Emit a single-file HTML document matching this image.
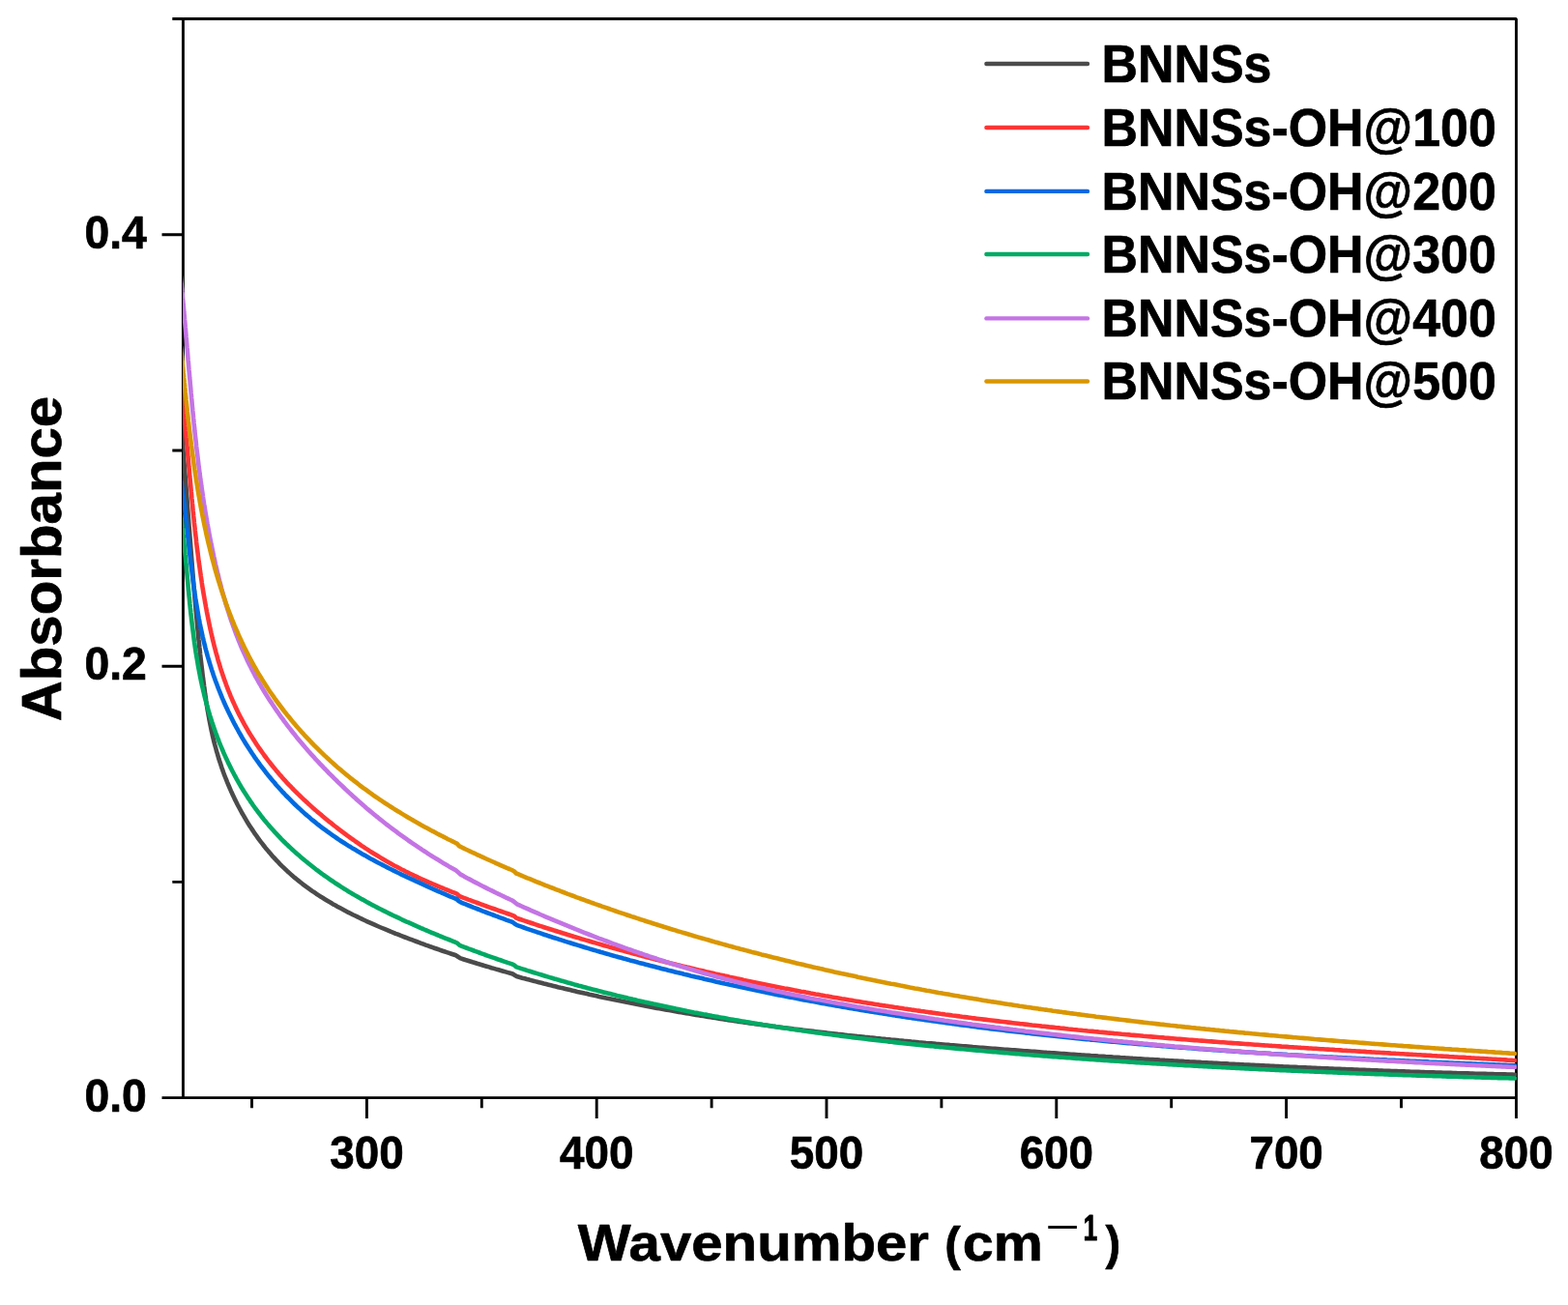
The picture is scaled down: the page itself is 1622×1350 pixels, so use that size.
<!DOCTYPE html>
<html><head><meta charset="utf-8"><title>Absorbance spectra</title>
<style>
html,body{margin:0;padding:0;background:#fff;}
body{width:1622px;height:1350px;overflow:hidden;}
svg{display:block;}
text{font-family:"Liberation Sans",Arial,sans-serif;font-weight:bold;fill:#000;stroke:#000;stroke-linejoin:round;}
</style></head>
<body>
<svg width="1622" height="1350" viewBox="0 0 1622 1350">
<defs><clipPath id="pc"><rect x="188.9" y="0" width="1380" height="1136"/></clipPath></defs>
<rect x="0" y="0" width="1622" height="1350" fill="#fff"/>
<g stroke="#000" stroke-width="2.9" fill="none">
<path d="M189.4 19.45H1568.45V1135.6H189.4Z" stroke-linejoin="bevel"/>
<path d="M167.5 1135.6H189.4M167.5 689.3H189.4M167.5 242.7H189.4M178.3 912.4H189.4M178.3 466H189.4M178.3 19.45H189.4"/>
<path d="M379.4 1135.6V1157M617.2 1135.6V1157M855 1135.6V1157M1092.8 1135.6V1157M1330.6 1135.6V1157M1568.45 1135.6V1157M260.5 1135.6V1146.3M498.3 1135.6V1146.3M736.1 1135.6V1146.3M973.9 1135.6V1146.3M1211.7 1135.6V1146.3M1449.5 1135.6V1146.3"/>
</g>
<g fill="none" stroke-width="4.6" stroke-linejoin="round" stroke-linecap="round" clip-path="url(#pc)">
<path d="M187.7 442.9L187.9 445.4L188.1 448.0L188.3 450.5L188.5 453.1L188.7 455.6L188.9 458.2L189.1 460.7L189.3 463.2L189.5 465.8L189.7 468.3L189.9 470.9L190.1 473.4L190.3 476.0L190.5 478.5L190.7 481.1L190.9 483.6L191.1 486.1L191.3 488.7L191.5 491.2L191.7 493.8L191.9 496.3L192.1 498.9L192.3 501.4L192.5 504.0L192.7 506.5L192.9 509.0L193.1 511.6L193.3 514.1L193.5 516.7L193.7 519.2L193.8 521.8L194.0 524.3L194.2 526.9L194.4 529.4L194.6 531.9L194.8 534.5L195.0 537.0L195.2 539.6L195.4 542.1L195.6 544.7L195.8 547.2L196.0 549.8L196.2 552.3L196.4 554.9L196.6 557.4L196.8 559.9L197.0 562.5L197.2 565.0L197.4 567.6L197.6 570.1L197.8 572.7L198.0 575.2L198.2 577.8L198.4 580.3L198.6 582.8L198.8 585.4L199.0 587.9L199.2 590.5L199.4 593.0L199.6 595.6L199.8 598.1L200.0 600.6L200.2 603.2L200.4 605.7L200.7 608.3L200.9 610.8L201.1 613.4L201.3 615.9L201.5 618.5L201.7 621.0L202.0 623.5L202.2 626.1L202.4 628.6L202.6 631.2L202.9 633.7L203.1 636.3L203.3 638.8L203.6 641.3L203.8 643.9L204.0 646.4L204.3 649.0L204.5 651.5L204.8 654.0L205.0 656.6L205.3 659.1L205.5 661.7L205.8 664.2L206.1 666.7L206.3 669.3L206.6 671.8L206.9 674.3L207.1 676.9L207.4 679.4L207.7 682.0L208.0 684.5L208.3 687.0L208.6 689.6L208.9 692.1L209.2 694.6L209.5 697.2L209.8 699.7L210.1 702.2L210.5 704.8L210.8 707.3L211.1 709.8L211.5 712.4L211.8 714.9L212.1 717.4L212.5 719.9L212.9 722.5L213.2 725.0L213.6 727.5L214.0 730.0L214.4 732.6L214.8 735.1L215.3 737.6L215.7 740.1L216.2 742.6L216.6 745.1L217.1 747.6L217.6 750.1L218.1 752.6L218.6 755.1L219.2 757.6L219.7 760.1L220.3 762.6L220.9 765.1L221.5 767.6L222.1 770.0L222.8 772.5L223.5 775.0L224.1 777.4L224.9 779.9L225.6 782.3L226.3 784.8L227.1 787.2L227.9 789.6L228.7 792.0L229.5 794.5L230.4 796.9L231.2 799.3L232.1 801.7L233.0 804.0L234.0 806.4L234.9 808.8L235.9 811.2L236.9 813.5L237.9 815.9L238.9 818.2L240.0 820.5L241.0 822.8L242.1 825.1L243.2 827.4L244.4 829.7L245.5 832.0L246.7 834.3L247.9 836.5L249.1 838.8L250.3 841.0L251.6 843.2L252.9 845.4L254.2 847.6L255.5 849.8L256.8 852.0L258.2 854.2L259.6 856.3L261.0 858.4L262.4 860.5L263.8 862.7L265.3 864.7L266.8 866.8L268.3 868.9L269.8 870.9L271.4 872.9L273.0 875.0L274.5 876.9L276.2 878.9L277.8 880.9L279.5 882.8L281.1 884.7L282.8 886.7L284.6 888.5L286.3 890.4L288.1 892.2L289.8 894.1L291.6 895.9L293.5 897.7L295.3 899.4L297.2 901.2L299.1 902.9L301.0 904.6L302.9 906.3L304.8 907.9L306.8 909.5L308.8 911.1L310.8 912.7L312.8 914.3L314.8 915.8L316.9 917.4L319.0 918.9L321.0 920.3L323.1 921.8L325.2 923.2L327.3 924.7L329.5 926.1L331.6 927.5L333.8 928.8L336.0 930.2L338.1 931.5L340.3 932.8L342.5 934.1L344.7 935.4L346.9 936.6L349.2 937.9L351.4 939.1L353.7 940.3L355.9 941.5L358.2 942.7L360.4 943.9L362.7 945.0L365.0 946.2L367.3 947.3L369.6 948.4L371.9 949.5L374.2 950.6L376.5 951.7L378.8 952.8L381.1 953.8L383.5 954.9L385.8 955.9L388.1 956.9L390.5 958.0L392.8 959.0L395.2 960.0L397.5 960.9L399.9 961.9L402.2 962.9L404.6 963.9L407.0 964.8L409.3 965.8L411.7 966.7L414.1 967.7L416.5 968.6L418.8 969.5L421.2 970.4L423.6 971.3L426.0 972.2L428.4 973.1L430.8 974.0L433.2 974.9L435.6 975.8L438.0 976.7L440.4 977.6L442.8 978.4L445.2 979.3L447.6 980.1L450.0 981.0L452.4 981.8L454.8 982.6L457.2 983.5L459.6 984.3L462.1 985.1L464.5 985.9L466.9 986.7L469.3 987.5L471.7 988.3L474.2 990.0L476.6 991.4L479.0 992.2L481.5 993.0L483.9 993.7L486.3 994.5L488.8 995.3L491.2 996.0L493.6 996.8L496.1 997.5L498.5 998.2L501.0 999.0L503.4 999.7L505.9 1000.4L508.3 1001.2L510.8 1001.9L513.2 1002.6L515.7 1003.3L518.1 1004.0L520.6 1004.7L523.0 1005.4L525.5 1006.1L527.9 1006.8L530.4 1007.5L532.9 1009.2L535.3 1010.3L537.8 1011.0L540.2 1011.7L542.7 1012.3L545.2 1013.0L547.6 1013.6L550.1 1014.3L552.6 1014.9L555.1 1015.6L557.5 1016.2L560.0 1016.8L562.5 1017.5L564.9 1018.1L567.4 1018.7L569.9 1019.3L572.4 1019.9L574.9 1020.5L577.3 1021.2L579.8 1021.8L582.3 1022.3L584.8 1022.9L587.3 1023.5L589.7 1024.1L592.2 1024.7L594.7 1025.3L597.2 1025.9L599.7 1026.4L602.2 1027.0L604.7 1027.6L607.2 1028.1L609.6 1028.7L612.1 1029.2L614.6 1029.8L617.1 1030.3L619.6 1030.9L622.1 1031.4L624.6 1031.9L627.1 1032.5L629.6 1033.0L632.1 1033.5L634.6 1034.0L637.1 1034.6L639.6 1035.1L642.1 1035.6L644.6 1036.1L647.1 1036.6L649.6 1037.1L652.1 1037.6L654.6 1038.1L657.1 1038.6L659.6 1039.1L662.1 1039.6L664.6 1040.0L667.1 1040.5L669.6 1041.0L672.2 1041.5L674.7 1041.9L677.2 1042.4L679.7 1042.9L682.2 1043.3L684.7 1043.8L687.2 1044.2L689.7 1044.7L692.2 1045.1L694.8 1045.6L697.3 1046.0L699.8 1046.5L702.3 1046.9L704.8 1047.3L707.3 1047.8L709.8 1048.2L712.4 1048.6L714.9 1049.0L717.4 1049.5L719.9 1049.9L722.4 1050.3L724.9 1050.7L727.5 1051.1L730.0 1051.5L732.5 1051.9L735.0 1052.3L737.6 1052.7L740.1 1053.1L742.6 1053.5L745.1 1053.9L747.6 1054.3L750.2 1054.7L752.7 1055.1L755.2 1055.4L757.7 1055.8L760.3 1056.2L762.8 1056.6L765.3 1056.9L767.8 1057.3L770.4 1057.7L772.9 1058.0L775.4 1058.4L777.9 1058.7L780.5 1059.1L783.0 1059.4L785.5 1059.8L788.1 1060.1L790.6 1060.5L793.1 1060.8L795.6 1061.2L798.2 1061.5L800.7 1061.9L803.2 1062.2L805.8 1062.5L808.3 1062.9L810.8 1063.2L813.4 1063.5L815.9 1063.8L818.4 1064.1L821.0 1064.5L823.5 1064.8L826.0 1065.1L828.5 1065.4L831.1 1065.7L833.6 1066.0L836.1 1066.3L838.7 1066.6L841.2 1066.9L843.8 1067.2L846.3 1067.5L848.8 1067.8L851.4 1068.1L853.9 1068.4L856.4 1068.7L859.0 1069.0L861.5 1069.3L864.0 1069.6L866.6 1069.9L869.1 1070.1L871.6 1070.4L874.2 1070.7L876.7 1071.0L879.3 1071.2L881.8 1071.5L884.3 1071.8L886.9 1072.1L889.4 1072.3L891.9 1072.6L894.5 1072.9L897.0 1073.1L899.6 1073.4L902.1 1073.6L904.6 1073.9L907.2 1074.2L909.7 1074.4L912.3 1074.7L914.8 1074.9L917.3 1075.2L919.9 1075.4L922.4 1075.7L925.0 1075.9L927.5 1076.1L930.0 1076.4L932.6 1076.6L935.1 1076.9L937.7 1077.1L940.2 1077.3L942.8 1077.6L945.3 1077.8L947.8 1078.0L950.4 1078.3L952.9 1078.5L955.5 1078.7L958.0 1079.0L960.5 1079.2L963.1 1079.4L965.6 1079.6L968.2 1079.9L970.7 1080.1L973.3 1080.3L975.8 1080.5L978.3 1080.7L980.9 1080.9L983.4 1081.2L986.0 1081.4L988.5 1081.6L991.1 1081.8L993.6 1082.0L996.1 1082.2L998.7 1082.4L1001.2 1082.6L1003.8 1082.8L1006.3 1083.1L1008.9 1083.3L1011.4 1083.5L1014.0 1083.7L1016.5 1083.9L1019.0 1084.1L1021.6 1084.3L1024.1 1084.5L1026.7 1084.7L1029.2 1084.9L1031.8 1085.1L1034.3 1085.3L1036.9 1085.5L1039.4 1085.7L1041.9 1085.8L1044.5 1086.0L1047.0 1086.2L1049.6 1086.4L1052.1 1086.6L1054.7 1086.8L1057.2 1087.0L1059.8 1087.2L1062.3 1087.4L1064.9 1087.6L1067.4 1087.8L1069.9 1087.9L1072.5 1088.1L1075.0 1088.3L1077.6 1088.5L1080.1 1088.7L1082.7 1088.9L1085.2 1089.0L1087.8 1089.2L1090.3 1089.4L1092.9 1089.6L1095.4 1089.8L1097.9 1090.0L1100.5 1090.1L1103.0 1090.3L1105.6 1090.5L1108.1 1090.7L1110.7 1090.8L1113.2 1091.0L1115.8 1091.2L1118.3 1091.4L1120.9 1091.5L1123.4 1091.7L1126.0 1091.9L1128.5 1092.1L1131.0 1092.2L1133.6 1092.4L1136.1 1092.6L1138.7 1092.7L1141.2 1092.9L1143.8 1093.1L1146.3 1093.2L1148.9 1093.4L1151.4 1093.6L1154.0 1093.7L1156.5 1093.9L1159.1 1094.1L1161.6 1094.2L1164.2 1094.4L1166.7 1094.5L1169.3 1094.7L1171.8 1094.9L1174.3 1095.0L1176.9 1095.2L1179.4 1095.3L1182.0 1095.5L1184.5 1095.7L1187.1 1095.8L1189.6 1096.0L1192.2 1096.1L1194.7 1096.3L1197.3 1096.4L1199.8 1096.6L1202.4 1096.7L1204.9 1096.9L1207.5 1097.0L1210.0 1097.2L1212.6 1097.3L1215.1 1097.5L1217.7 1097.6L1220.2 1097.8L1222.8 1097.9L1225.3 1098.1L1227.8 1098.2L1230.4 1098.4L1232.9 1098.5L1235.5 1098.6L1238.0 1098.8L1240.6 1098.9L1243.1 1099.1L1245.7 1099.2L1248.2 1099.3L1250.8 1099.5L1253.3 1099.6L1255.9 1099.8L1258.4 1099.9L1261.0 1100.0L1263.5 1100.2L1266.1 1100.3L1268.6 1100.4L1271.2 1100.6L1273.7 1100.7L1276.3 1100.8L1278.8 1101.0L1281.4 1101.1L1283.9 1101.2L1286.5 1101.4L1289.0 1101.5L1291.6 1101.6L1294.1 1101.8L1296.7 1101.9L1299.2 1102.0L1301.8 1102.1L1304.3 1102.3L1306.9 1102.4L1309.4 1102.5L1312.0 1102.6L1314.5 1102.8L1317.1 1102.9L1319.6 1103.0L1322.2 1103.1L1324.7 1103.2L1327.3 1103.4L1329.8 1103.5L1332.4 1103.6L1334.9 1103.7L1337.5 1103.8L1340.0 1103.9L1342.6 1104.1L1345.1 1104.2L1347.7 1104.3L1350.2 1104.4L1352.8 1104.5L1355.3 1104.6L1357.9 1104.7L1360.4 1104.8L1363.0 1105.0L1365.5 1105.1L1368.1 1105.2L1370.6 1105.3L1373.2 1105.4L1375.7 1105.5L1378.3 1105.6L1380.8 1105.7L1383.4 1105.8L1385.9 1105.9L1388.5 1106.0L1391.0 1106.1L1393.6 1106.2L1396.1 1106.3L1398.7 1106.4L1401.2 1106.5L1403.8 1106.6L1406.3 1106.7L1408.9 1106.8L1411.4 1106.9L1414.0 1107.0L1416.5 1107.1L1419.1 1107.2L1421.6 1107.3L1424.2 1107.4L1426.7 1107.5L1429.3 1107.6L1431.8 1107.7L1434.4 1107.8L1436.9 1107.9L1439.5 1108.0L1442.0 1108.0L1444.6 1108.1L1447.1 1108.2L1449.7 1108.3L1452.2 1108.4L1454.8 1108.5L1457.3 1108.6L1459.9 1108.7L1462.4 1108.7L1465.0 1108.8L1467.5 1108.9L1470.1 1109.0L1472.6 1109.1L1475.2 1109.2L1477.7 1109.2L1480.3 1109.3L1482.8 1109.4L1485.4 1109.5L1487.9 1109.6L1490.5 1109.6L1493.0 1109.7L1495.6 1109.8L1498.1 1109.9L1500.7 1109.9L1503.2 1110.0L1505.8 1110.1L1508.3 1110.2L1510.9 1110.2L1513.4 1110.3L1516.0 1110.4L1518.5 1110.4L1521.1 1110.5L1523.6 1110.6L1526.2 1110.7L1528.7 1110.7L1531.3 1110.8L1533.9 1110.9L1536.4 1110.9L1539.0 1111.0L1541.5 1111.0L1544.1 1111.1L1546.6 1111.2L1549.2 1111.2L1551.7 1111.3L1554.3 1111.4L1556.8 1111.4L1559.4 1111.5L1561.9 1111.5L1564.5 1111.6L1567.0 1111.7" stroke="#4b4b4b"/>
<path d="M187.1 398.0L187.4 400.5L187.6 403.0L187.9 405.5L188.2 408.0L188.5 410.5L188.8 413.0L189.0 415.5L189.3 418.0L189.5 420.5L189.8 423.0L190.1 425.5L190.3 428.0L190.6 430.5L190.8 433.0L191.1 435.5L191.3 438.0L191.5 440.5L191.8 443.0L192.0 445.5L192.3 448.0L192.5 450.5L192.7 453.0L193.0 455.5L193.2 458.0L193.4 460.5L193.6 463.1L193.9 465.6L194.1 468.1L194.3 470.6L194.5 473.1L194.8 475.6L195.0 478.1L195.2 480.6L195.4 483.1L195.7 485.6L195.9 488.1L196.1 490.6L196.3 493.1L196.6 495.6L196.8 498.1L197.0 500.6L197.3 503.1L197.5 505.6L197.7 508.2L198.0 510.7L198.2 513.2L198.4 515.7L198.7 518.2L198.9 520.7L199.2 523.2L199.4 525.7L199.6 528.2L199.9 530.7L200.1 533.2L200.4 535.7L200.7 538.2L200.9 540.7L201.2 543.2L201.5 545.7L201.7 548.2L202.0 550.7L202.3 553.2L202.6 555.7L202.9 558.2L203.1 560.7L203.4 563.2L203.7 565.7L204.0 568.2L204.4 570.7L204.7 573.2L205.0 575.7L205.3 578.2L205.6 580.7L206.0 583.2L206.3 585.7L206.7 588.2L207.0 590.7L207.4 593.1L207.7 595.6L208.1 598.1L208.5 600.6L208.8 603.1L209.2 605.6L209.6 608.1L210.0 610.6L210.4 613.0L210.8 615.5L211.3 618.0L211.7 620.5L212.1 623.0L212.6 625.4L213.0 627.9L213.5 630.4L213.9 632.9L214.4 635.3L214.9 637.8L215.4 640.3L215.9 642.7L216.4 645.2L216.9 647.7L217.4 650.1L218.0 652.6L218.5 655.0L219.1 657.5L219.6 659.9L220.2 662.4L220.8 664.8L221.4 667.3L222.0 669.7L222.7 672.1L223.3 674.6L224.0 677.0L224.7 679.4L225.3 681.8L226.0 684.3L226.8 686.7L227.5 689.1L228.2 691.5L229.0 693.9L229.8 696.3L230.6 698.7L231.4 701.0L232.2 703.4L233.1 705.8L233.9 708.1L234.8 710.5L235.7 712.9L236.6 715.2L237.6 717.5L238.5 719.9L239.5 722.2L240.5 724.5L241.5 726.8L242.6 729.1L243.6 731.4L244.7 733.6L245.8 735.9L246.9 738.2L248.0 740.4L249.2 742.6L250.4 744.9L251.6 747.1L252.8 749.3L254.0 751.5L255.3 753.7L256.5 755.8L257.8 758.0L259.1 760.1L260.5 762.3L261.8 764.4L263.2 766.5L264.5 768.6L265.9 770.7L267.3 772.8L268.8 774.9L270.2 776.9L271.7 779.0L273.1 781.0L274.6 783.0L276.2 785.1L277.7 787.1L279.2 789.0L280.8 791.0L282.4 793.0L284.0 794.9L285.6 796.9L287.2 798.8L288.8 800.7L290.5 802.6L292.1 804.5L293.8 806.4L295.5 808.2L297.2 810.1L298.9 811.9L300.7 813.7L302.4 815.5L304.2 817.3L306.0 819.1L307.8 820.9L309.6 822.6L311.4 824.4L313.2 826.1L315.0 827.8L316.9 829.5L318.7 831.2L320.6 832.9L322.5 834.6L324.3 836.3L326.2 837.9L328.1 839.6L330.1 841.2L332.0 842.8L333.9 844.5L335.8 846.1L337.8 847.7L339.7 849.3L341.7 850.8L343.7 852.4L345.6 854.0L347.6 855.5L349.6 857.1L351.6 858.6L353.6 860.1L355.6 861.6L357.6 863.1L359.6 864.6L361.7 866.1L363.7 867.6L365.8 869.0L367.8 870.5L369.9 871.9L372.0 873.4L374.0 874.8L376.1 876.2L378.2 877.6L380.3 878.9L382.4 880.3L384.6 881.7L386.7 883.0L388.8 884.3L391.0 885.6L393.1 886.9L395.3 888.2L397.5 889.5L399.6 890.8L401.8 892.0L404.0 893.2L406.2 894.5L408.4 895.7L410.7 896.8L412.9 898.0L415.1 899.2L417.4 900.3L419.6 901.5L421.9 902.6L424.1 903.7L426.4 904.8L428.6 905.9L430.9 906.9L433.2 908.0L435.5 909.1L437.8 910.1L440.1 911.1L442.4 912.1L444.7 913.2L447.0 914.2L449.3 915.1L451.6 916.1L453.9 917.1L456.3 918.1L458.6 919.0L460.9 920.0L463.2 920.9L465.6 921.8L467.9 922.8L470.3 923.7L472.6 924.6L475.0 927.0L477.3 927.9L479.7 928.8L482.0 929.7L484.4 930.6L486.7 931.4L489.1 932.3L491.5 933.2L493.8 934.0L496.2 934.9L498.5 935.8L500.9 936.6L503.3 937.5L505.6 938.3L508.0 939.2L510.4 940.0L512.8 940.8L515.1 941.7L517.5 942.5L519.9 943.3L522.3 944.2L524.6 945.0L527.0 945.8L529.4 946.6L531.8 947.6L534.2 949.7L536.5 950.5L538.9 951.3L541.3 952.1L543.7 952.9L546.1 953.7L548.5 954.5L550.9 955.3L553.3 956.1L555.6 956.9L558.0 957.7L560.4 958.4L562.8 959.2L565.2 960.0L567.6 960.7L570.0 961.5L572.4 962.3L574.8 963.0L577.2 963.8L579.6 964.5L582.0 965.3L584.4 966.0L586.8 966.8L589.2 967.5L591.6 968.2L594.0 969.0L596.5 969.7L598.9 970.4L601.3 971.2L603.7 971.9L606.1 972.6L608.5 973.3L610.9 974.0L613.3 974.7L615.8 975.4L618.2 976.1L620.6 976.8L623.0 977.5L625.4 978.2L627.8 978.9L630.3 979.6L632.7 980.3L635.1 981.0L637.5 981.6L640.0 982.3L642.4 983.0L644.8 983.6L647.2 984.3L649.7 985.0L652.1 985.6L654.5 986.3L656.9 986.9L659.4 987.6L661.8 988.2L664.2 988.9L666.7 989.5L669.1 990.2L671.5 990.8L674.0 991.4L676.4 992.1L678.8 992.7L681.3 993.3L683.7 993.9L686.2 994.5L688.6 995.2L691.0 995.8L693.5 996.4L695.9 997.0L698.4 997.6L700.8 998.2L703.3 998.8L705.7 999.4L708.1 1000.0L710.6 1000.6L713.0 1001.1L715.5 1001.7L717.9 1002.3L720.4 1002.9L722.8 1003.5L725.3 1004.0L727.7 1004.6L730.2 1005.2L732.6 1005.7L735.1 1006.3L737.5 1006.8L740.0 1007.4L742.5 1007.9L744.9 1008.5L747.4 1009.0L749.8 1009.6L752.3 1010.1L754.7 1010.7L757.2 1011.2L759.7 1011.7L762.1 1012.3L764.6 1012.8L767.0 1013.3L769.5 1013.9L772.0 1014.4L774.4 1014.9L776.9 1015.4L779.3 1015.9L781.8 1016.4L784.3 1016.9L786.7 1017.4L789.2 1017.9L791.7 1018.4L794.1 1018.9L796.6 1019.4L799.1 1019.9L801.5 1020.4L804.0 1020.9L806.5 1021.4L808.9 1021.9L811.4 1022.4L813.9 1022.8L816.4 1023.3L818.8 1023.8L821.3 1024.3L823.8 1024.7L826.2 1025.2L828.7 1025.7L831.2 1026.1L833.7 1026.6L836.1 1027.0L838.6 1027.5L841.1 1027.9L843.6 1028.4L846.0 1028.8L848.5 1029.3L851.0 1029.7L853.5 1030.2L855.9 1030.6L858.4 1031.0L860.9 1031.5L863.4 1031.9L865.9 1032.3L868.3 1032.7L870.8 1033.2L873.3 1033.6L875.8 1034.0L878.3 1034.4L880.7 1034.8L883.2 1035.3L885.7 1035.7L888.2 1036.1L890.7 1036.5L893.2 1036.9L895.6 1037.3L898.1 1037.7L900.6 1038.1L903.1 1038.5L905.6 1038.9L908.1 1039.3L910.5 1039.7L913.0 1040.1L915.5 1040.4L918.0 1040.8L920.5 1041.2L923.0 1041.6L925.5 1042.0L928.0 1042.3L930.4 1042.7L932.9 1043.1L935.4 1043.5L937.9 1043.8L940.4 1044.2L942.9 1044.6L945.4 1044.9L947.9 1045.3L950.4 1045.6L952.8 1046.0L955.3 1046.3L957.8 1046.7L960.3 1047.1L962.8 1047.4L965.3 1047.7L967.8 1048.1L970.3 1048.4L972.8 1048.8L975.3 1049.1L977.8 1049.5L980.3 1049.8L982.8 1050.1L985.2 1050.5L987.7 1050.8L990.2 1051.1L992.7 1051.4L995.2 1051.8L997.7 1052.1L1000.2 1052.4L1002.7 1052.7L1005.2 1053.1L1007.7 1053.4L1010.2 1053.7L1012.7 1054.0L1015.2 1054.3L1017.7 1054.6L1020.2 1054.9L1022.7 1055.2L1025.2 1055.5L1027.7 1055.8L1030.2 1056.1L1032.7 1056.4L1035.2 1056.7L1037.7 1057.0L1040.2 1057.3L1042.7 1057.6L1045.2 1057.9L1047.7 1058.2L1050.2 1058.5L1052.7 1058.8L1055.2 1059.1L1057.7 1059.3L1060.2 1059.6L1062.7 1059.9L1065.2 1060.2L1067.7 1060.5L1070.2 1060.7L1072.7 1061.0L1075.2 1061.3L1077.7 1061.6L1080.2 1061.8L1082.7 1062.1L1085.2 1062.4L1087.7 1062.6L1090.2 1062.9L1092.7 1063.2L1095.2 1063.4L1097.7 1063.7L1100.2 1063.9L1102.7 1064.2L1105.2 1064.5L1107.7 1064.7L1110.2 1065.0L1112.7 1065.2L1115.2 1065.5L1117.7 1065.7L1120.2 1066.0L1122.7 1066.2L1125.2 1066.5L1127.7 1066.7L1130.2 1066.9L1132.7 1067.2L1135.2 1067.4L1137.7 1067.7L1140.2 1067.9L1142.8 1068.1L1145.3 1068.4L1147.8 1068.6L1150.3 1068.8L1152.8 1069.1L1155.3 1069.3L1157.8 1069.5L1160.3 1069.8L1162.8 1070.0L1165.3 1070.2L1167.8 1070.4L1170.3 1070.7L1172.8 1070.9L1175.3 1071.1L1177.8 1071.3L1180.3 1071.5L1182.8 1071.8L1185.4 1072.0L1187.9 1072.2L1190.4 1072.4L1192.9 1072.6L1195.4 1072.8L1197.9 1073.0L1200.4 1073.2L1202.9 1073.4L1205.4 1073.7L1207.9 1073.9L1210.4 1074.1L1212.9 1074.3L1215.4 1074.5L1217.9 1074.7L1220.5 1074.9L1223.0 1075.1L1225.5 1075.3L1228.0 1075.5L1230.5 1075.7L1233.0 1075.9L1235.5 1076.1L1238.0 1076.3L1240.5 1076.5L1243.0 1076.6L1245.5 1076.8L1248.0 1077.0L1250.6 1077.2L1253.1 1077.4L1255.6 1077.6L1258.1 1077.8L1260.6 1078.0L1263.1 1078.2L1265.6 1078.3L1268.1 1078.5L1270.6 1078.7L1273.1 1078.9L1275.6 1079.1L1278.2 1079.3L1280.7 1079.4L1283.2 1079.6L1285.7 1079.8L1288.2 1080.0L1290.7 1080.1L1293.2 1080.3L1295.7 1080.5L1298.2 1080.7L1300.7 1080.8L1303.3 1081.0L1305.8 1081.2L1308.3 1081.4L1310.8 1081.5L1313.3 1081.7L1315.8 1081.9L1318.3 1082.0L1320.8 1082.2L1323.3 1082.4L1325.8 1082.6L1328.4 1082.7L1330.9 1082.9L1333.4 1083.1L1335.9 1083.2L1338.4 1083.4L1340.9 1083.5L1343.4 1083.7L1345.9 1083.9L1348.4 1084.0L1351.0 1084.2L1353.5 1084.4L1356.0 1084.5L1358.5 1084.7L1361.0 1084.8L1363.5 1085.0L1366.0 1085.2L1368.5 1085.3L1371.0 1085.5L1373.6 1085.6L1376.1 1085.8L1378.6 1085.9L1381.1 1086.1L1383.6 1086.2L1386.1 1086.4L1388.6 1086.6L1391.1 1086.7L1393.6 1086.9L1396.2 1087.0L1398.7 1087.2L1401.2 1087.3L1403.7 1087.5L1406.2 1087.6L1408.7 1087.8L1411.2 1087.9L1413.7 1088.1L1416.2 1088.2L1418.8 1088.4L1421.3 1088.5L1423.8 1088.7L1426.3 1088.8L1428.8 1089.0L1431.3 1089.1L1433.8 1089.3L1436.3 1089.4L1438.9 1089.6L1441.4 1089.7L1443.9 1089.9L1446.4 1090.0L1448.9 1090.2L1451.4 1090.3L1453.9 1090.5L1456.4 1090.6L1458.9 1090.7L1461.5 1090.9L1464.0 1091.0L1466.5 1091.2L1469.0 1091.3L1471.5 1091.5L1474.0 1091.6L1476.5 1091.8L1479.0 1091.9L1481.5 1092.1L1484.1 1092.2L1486.6 1092.4L1489.1 1092.5L1491.6 1092.6L1494.1 1092.8L1496.6 1092.9L1499.1 1093.1L1501.6 1093.2L1504.2 1093.4L1506.7 1093.5L1509.2 1093.7L1511.7 1093.8L1514.2 1093.9L1516.7 1094.1L1519.2 1094.2L1521.7 1094.4L1524.3 1094.5L1526.8 1094.7L1529.3 1094.8L1531.8 1095.0L1534.3 1095.1L1536.8 1095.2L1539.3 1095.4L1541.8 1095.5L1544.3 1095.7L1546.9 1095.8L1549.4 1096.0L1551.9 1096.1L1554.4 1096.3L1556.9 1096.4L1559.4 1096.6L1561.9 1096.7L1564.4 1096.9L1567.0 1097.0" stroke="#ff3535"/>
<path d="M186.9 492.1L187.2 494.5L187.5 496.9L187.9 499.3L188.2 501.7L188.5 504.0L188.8 506.4L189.1 508.8L189.4 511.2L189.7 513.6L190.0 515.9L190.3 518.3L190.6 520.7L190.8 523.1L191.1 525.5L191.4 527.8L191.6 530.2L191.9 532.6L192.2 535.0L192.4 537.4L192.7 539.8L193.0 542.2L193.2 544.5L193.5 546.9L193.7 549.3L194.0 551.7L194.2 554.1L194.5 556.5L194.8 558.9L195.0 561.2L195.3 563.6L195.5 566.0L195.8 568.4L196.1 570.8L196.3 573.2L196.6 575.6L196.9 577.9L197.1 580.3L197.4 582.7L197.7 585.1L198.0 587.5L198.3 589.8L198.6 592.2L198.9 594.6L199.2 597.0L199.5 599.4L199.8 601.7L200.1 604.1L200.4 606.5L200.7 608.9L201.1 611.3L201.4 613.6L201.8 616.0L202.1 618.4L202.5 620.7L202.9 623.1L203.3 625.5L203.7 627.9L204.1 630.2L204.5 632.6L204.9 634.9L205.3 637.3L205.7 639.7L206.2 642.0L206.6 644.4L207.1 646.7L207.6 649.1L208.1 651.4L208.6 653.8L209.1 656.1L209.6 658.5L210.2 660.8L210.7 663.1L211.3 665.5L211.9 667.8L212.4 670.1L213.0 672.4L213.7 674.8L214.3 677.1L214.9 679.4L215.6 681.7L216.3 684.0L217.0 686.3L217.7 688.6L218.4 690.9L219.1 693.2L219.9 695.4L220.6 697.7L221.4 700.0L222.2 702.2L223.0 704.5L223.9 706.8L224.7 709.0L225.5 711.2L226.4 713.5L227.3 715.7L228.2 717.9L229.1 720.2L230.0 722.4L231.0 724.6L231.9 726.8L232.9 729.0L233.9 731.2L234.9 733.3L235.9 735.5L237.0 737.7L238.0 739.8L239.1 742.0L240.1 744.1L241.2 746.3L242.3 748.4L243.5 750.5L244.6 752.6L245.8 754.7L246.9 756.8L248.1 758.9L249.3 761.0L250.5 763.1L251.7 765.1L253.0 767.2L254.2 769.2L255.5 771.3L256.8 773.3L258.1 775.3L259.4 777.3L260.7 779.3L262.1 781.3L263.4 783.3L264.8 785.2L266.2 787.2L267.6 789.1L269.0 791.1L270.4 793.0L271.9 794.9L273.4 796.8L274.8 798.7L276.3 800.6L277.8 802.5L279.3 804.3L280.9 806.2L282.4 808.0L284.0 809.8L285.5 811.7L287.1 813.5L288.7 815.2L290.3 817.0L291.9 818.8L293.6 820.5L295.2 822.3L296.9 824.0L298.6 825.7L300.3 827.4L302.0 829.1L303.7 830.8L305.4 832.5L307.1 834.1L308.9 835.8L310.7 837.4L312.4 839.0L314.2 840.6L316.0 842.2L317.8 843.8L319.7 845.3L321.5 846.9L323.3 848.4L325.2 849.9L327.1 851.4L328.9 852.9L330.8 854.4L332.7 855.8L334.7 857.3L336.6 858.7L338.5 860.1L340.5 861.5L342.4 862.9L344.4 864.3L346.4 865.7L348.3 867.0L350.3 868.4L352.3 869.7L354.3 871.0L356.4 872.3L358.4 873.6L360.4 874.9L362.5 876.1L364.5 877.4L366.6 878.6L368.6 879.8L370.7 881.1L372.8 882.3L374.8 883.5L376.9 884.6L379.0 885.8L381.1 887.0L383.2 888.2L385.3 889.3L387.4 890.4L389.5 891.6L391.7 892.7L393.8 893.8L395.9 894.9L398.1 896.0L400.2 897.1L402.3 898.2L404.5 899.3L406.6 900.3L408.8 901.4L410.9 902.5L413.1 903.5L415.2 904.6L417.4 905.6L419.6 906.6L421.7 907.7L423.9 908.7L426.1 909.7L428.3 910.7L430.4 911.7L432.6 912.7L434.8 913.7L437.0 914.7L439.2 915.7L441.3 916.7L443.5 917.7L445.7 918.7L447.9 919.6L450.1 920.6L452.3 921.6L454.5 922.5L456.7 923.5L458.9 924.4L461.1 925.4L463.3 926.3L465.5 927.3L467.7 928.2L470.0 929.1L472.2 930.0L474.4 932.0L476.6 933.4L478.8 934.3L481.1 935.2L483.3 936.1L485.5 937.0L487.7 937.9L490.0 938.8L492.2 939.6L494.4 940.5L496.7 941.4L498.9 942.3L501.1 943.1L503.4 944.0L505.6 944.8L507.9 945.7L510.1 946.5L512.3 947.4L514.6 948.2L516.8 949.1L519.1 949.9L521.3 950.7L523.6 951.6L525.8 952.4L528.1 953.2L530.4 954.0L532.6 955.7L534.9 957.1L537.1 957.9L539.4 958.7L541.7 959.5L543.9 960.3L546.2 961.1L548.5 961.9L550.7 962.6L553.0 963.4L555.3 964.2L557.6 964.9L559.8 965.7L562.1 966.5L564.4 967.2L566.7 968.0L568.9 968.7L571.2 969.5L573.5 970.2L575.8 970.9L578.1 971.7L580.4 972.4L582.6 973.1L584.9 973.9L587.2 974.6L589.5 975.3L591.8 976.0L594.1 976.7L596.4 977.4L598.7 978.1L601.0 978.8L603.3 979.5L605.6 980.2L607.9 980.9L610.2 981.6L612.5 982.3L614.8 982.9L617.1 983.6L619.4 984.3L621.7 985.0L624.0 985.6L626.3 986.3L628.6 986.9L630.9 987.6L633.2 988.3L635.5 988.9L637.8 989.6L640.1 990.2L642.5 990.8L644.8 991.5L647.1 992.1L649.4 992.7L651.7 993.4L654.0 994.0L656.3 994.6L658.7 995.2L661.0 995.9L663.3 996.5L665.6 997.1L667.9 997.7L670.3 998.3L672.6 998.9L674.9 999.5L677.2 1000.1L679.6 1000.7L681.9 1001.3L684.2 1001.9L686.5 1002.5L688.9 1003.1L691.2 1003.7L693.5 1004.2L695.8 1004.8L698.2 1005.4L700.5 1006.0L702.8 1006.5L705.2 1007.1L707.5 1007.7L709.8 1008.2L712.2 1008.8L714.5 1009.4L716.8 1009.9L719.2 1010.5L721.5 1011.0L723.8 1011.6L726.2 1012.1L728.5 1012.7L730.8 1013.2L733.2 1013.8L735.5 1014.3L737.8 1014.8L740.2 1015.4L742.5 1015.9L744.9 1016.4L747.2 1016.9L749.6 1017.5L751.9 1018.0L754.2 1018.5L756.6 1019.0L758.9 1019.5L761.3 1020.1L763.6 1020.6L766.0 1021.1L768.3 1021.6L770.6 1022.1L773.0 1022.6L775.3 1023.1L777.7 1023.6L780.0 1024.1L782.4 1024.6L784.7 1025.1L787.1 1025.5L789.4 1026.0L791.8 1026.5L794.1 1027.0L796.5 1027.5L798.8 1027.9L801.2 1028.4L803.5 1028.9L805.9 1029.4L808.2 1029.8L810.6 1030.3L813.0 1030.8L815.3 1031.2L817.7 1031.7L820.0 1032.1L822.4 1032.6L824.7 1033.0L827.1 1033.5L829.4 1033.9L831.8 1034.4L834.2 1034.8L836.5 1035.3L838.9 1035.7L841.2 1036.1L843.6 1036.6L846.0 1037.0L848.3 1037.4L850.7 1037.9L853.0 1038.3L855.4 1038.7L857.8 1039.2L860.1 1039.6L862.5 1040.0L864.8 1040.4L867.2 1040.8L869.6 1041.2L871.9 1041.7L874.3 1042.1L876.7 1042.5L879.0 1042.9L881.4 1043.3L883.8 1043.7L886.1 1044.1L888.5 1044.5L890.9 1044.9L893.2 1045.3L895.6 1045.7L898.0 1046.0L900.3 1046.4L902.7 1046.8L905.1 1047.2L907.4 1047.6L909.8 1048.0L912.2 1048.3L914.5 1048.7L916.9 1049.1L919.3 1049.5L921.6 1049.8L924.0 1050.2L926.4 1050.6L928.8 1050.9L931.1 1051.3L933.5 1051.7L935.9 1052.0L938.2 1052.4L940.6 1052.7L943.0 1053.1L945.4 1053.4L947.7 1053.8L950.1 1054.1L952.5 1054.5L954.9 1054.8L957.2 1055.2L959.6 1055.5L962.0 1055.8L964.4 1056.2L966.7 1056.5L969.1 1056.8L971.5 1057.2L973.9 1057.5L976.2 1057.8L978.6 1058.2L981.0 1058.5L983.4 1058.8L985.8 1059.1L988.1 1059.5L990.5 1059.8L992.9 1060.1L995.3 1060.4L997.6 1060.7L1000.0 1061.0L1002.4 1061.3L1004.8 1061.7L1007.2 1062.0L1009.5 1062.3L1011.9 1062.6L1014.3 1062.9L1016.7 1063.2L1019.1 1063.5L1021.4 1063.8L1023.8 1064.1L1026.2 1064.4L1028.6 1064.6L1031.0 1064.9L1033.4 1065.2L1035.7 1065.5L1038.1 1065.8L1040.5 1066.1L1042.9 1066.4L1045.3 1066.6L1047.6 1066.9L1050.0 1067.2L1052.4 1067.5L1054.8 1067.8L1057.2 1068.0L1059.6 1068.3L1061.9 1068.6L1064.3 1068.8L1066.7 1069.1L1069.1 1069.4L1071.5 1069.6L1073.9 1069.9L1076.3 1070.2L1078.6 1070.4L1081.0 1070.7L1083.4 1070.9L1085.8 1071.2L1088.2 1071.5L1090.6 1071.7L1093.0 1072.0L1095.3 1072.2L1097.7 1072.5L1100.1 1072.7L1102.5 1072.9L1104.9 1073.2L1107.3 1073.4L1109.7 1073.7L1112.0 1073.9L1114.4 1074.2L1116.8 1074.4L1119.2 1074.6L1121.6 1074.9L1124.0 1075.1L1126.4 1075.3L1128.8 1075.6L1131.1 1075.8L1133.5 1076.0L1135.9 1076.3L1138.3 1076.5L1140.7 1076.7L1143.1 1076.9L1145.5 1077.1L1147.9 1077.4L1150.3 1077.6L1152.6 1077.8L1155.0 1078.0L1157.4 1078.2L1159.8 1078.5L1162.2 1078.7L1164.6 1078.9L1167.0 1079.1L1169.4 1079.3L1171.8 1079.5L1174.2 1079.7L1176.5 1079.9L1178.9 1080.1L1181.3 1080.3L1183.7 1080.5L1186.1 1080.7L1188.5 1080.9L1190.9 1081.1L1193.3 1081.3L1195.7 1081.5L1198.1 1081.7L1200.5 1081.9L1202.8 1082.1L1205.2 1082.3L1207.6 1082.5L1210.0 1082.7L1212.4 1082.9L1214.8 1083.1L1217.2 1083.2L1219.6 1083.4L1222.0 1083.6L1224.4 1083.8L1226.8 1084.0L1229.2 1084.2L1231.5 1084.3L1233.9 1084.5L1236.3 1084.7L1238.7 1084.9L1241.1 1085.1L1243.5 1085.2L1245.9 1085.4L1248.3 1085.6L1250.7 1085.8L1253.1 1085.9L1255.5 1086.1L1257.9 1086.3L1260.3 1086.4L1262.7 1086.6L1265.1 1086.8L1267.4 1086.9L1269.8 1087.1L1272.2 1087.3L1274.6 1087.4L1277.0 1087.6L1279.4 1087.7L1281.8 1087.9L1284.2 1088.1L1286.6 1088.2L1289.0 1088.4L1291.4 1088.5L1293.8 1088.7L1296.2 1088.8L1298.6 1089.0L1301.0 1089.2L1303.4 1089.3L1305.7 1089.5L1308.1 1089.6L1310.5 1089.8L1312.9 1089.9L1315.3 1090.1L1317.7 1090.2L1320.1 1090.3L1322.5 1090.5L1324.9 1090.6L1327.3 1090.8L1329.7 1090.9L1332.1 1091.1L1334.5 1091.2L1336.9 1091.4L1339.3 1091.5L1341.7 1091.6L1344.1 1091.8L1346.5 1091.9L1348.9 1092.0L1351.3 1092.2L1353.6 1092.3L1356.0 1092.5L1358.4 1092.6L1360.8 1092.7L1363.2 1092.9L1365.6 1093.0L1368.0 1093.1L1370.4 1093.2L1372.8 1093.4L1375.2 1093.5L1377.6 1093.6L1380.0 1093.8L1382.4 1093.9L1384.8 1094.0L1387.2 1094.1L1389.6 1094.3L1392.0 1094.4L1394.4 1094.5L1396.8 1094.6L1399.2 1094.8L1401.6 1094.9L1404.0 1095.0L1406.4 1095.1L1408.8 1095.3L1411.1 1095.4L1413.5 1095.5L1415.9 1095.6L1418.3 1095.7L1420.7 1095.9L1423.1 1096.0L1425.5 1096.1L1427.9 1096.2L1430.3 1096.3L1432.7 1096.4L1435.1 1096.6L1437.5 1096.7L1439.9 1096.8L1442.3 1096.9L1444.7 1097.0L1447.1 1097.1L1449.5 1097.2L1451.9 1097.3L1454.3 1097.5L1456.7 1097.6L1459.1 1097.7L1461.5 1097.8L1463.9 1097.9L1466.3 1098.0L1468.7 1098.1L1471.1 1098.2L1473.5 1098.3L1475.9 1098.4L1478.3 1098.6L1480.6 1098.7L1483.0 1098.8L1485.4 1098.9L1487.8 1099.0L1490.2 1099.1L1492.6 1099.2L1495.0 1099.3L1497.4 1099.4L1499.8 1099.5L1502.2 1099.6L1504.6 1099.7L1507.0 1099.8L1509.4 1099.9L1511.8 1100.0L1514.2 1100.1L1516.6 1100.2L1519.0 1100.3L1521.4 1100.4L1523.8 1100.5L1526.2 1100.6L1528.6 1100.7L1531.0 1100.8L1533.4 1100.9L1535.8 1101.0L1538.2 1101.1L1540.6 1101.2L1543.0 1101.3L1545.4 1101.4L1547.8 1101.5L1550.2 1101.6L1552.6 1101.7L1555.0 1101.8L1557.4 1101.9L1559.8 1102.0L1562.2 1102.1L1564.5 1102.2L1566.9 1102.3" stroke="#006ae0"/>
<path d="M187.3 533.4L187.6 535.8L187.9 538.2L188.2 540.6L188.5 542.9L188.7 545.3L189.0 547.7L189.3 550.1L189.5 552.5L189.8 554.9L190.0 557.3L190.3 559.7L190.5 562.0L190.7 564.4L191.0 566.8L191.2 569.2L191.4 571.6L191.6 574.0L191.9 576.4L192.1 578.8L192.3 581.2L192.5 583.6L192.8 586.0L193.0 588.3L193.2 590.7L193.4 593.1L193.6 595.5L193.8 597.9L194.1 600.3L194.3 602.7L194.5 605.1L194.7 607.5L194.9 609.9L195.2 612.3L195.4 614.7L195.6 617.0L195.9 619.4L196.1 621.8L196.3 624.2L196.6 626.6L196.8 629.0L197.1 631.4L197.3 633.8L197.6 636.2L197.9 638.5L198.1 640.9L198.4 643.3L198.7 645.7L199.0 648.1L199.3 650.5L199.6 652.9L199.9 655.2L200.2 657.6L200.5 660.0L200.8 662.4L201.1 664.8L201.5 667.1L201.8 669.5L202.2 671.9L202.5 674.3L202.9 676.6L203.3 679.0L203.7 681.4L204.1 683.7L204.5 686.1L204.9 688.5L205.3 690.8L205.8 693.2L206.2 695.6L206.7 697.9L207.1 700.3L207.6 702.6L208.1 705.0L208.6 707.3L209.1 709.7L209.7 712.0L210.2 714.4L210.8 716.7L211.3 719.0L211.9 721.4L212.5 723.7L213.1 726.0L213.7 728.3L214.4 730.6L215.0 733.0L215.7 735.3L216.4 737.6L217.0 739.9L217.8 742.2L218.5 744.5L219.2 746.7L220.0 749.0L220.7 751.3L221.5 753.6L222.3 755.8L223.1 758.1L224.0 760.3L224.8 762.6L225.7 764.8L226.5 767.1L227.4 769.3L228.3 771.5L229.2 773.7L230.2 776.0L231.1 778.2L232.1 780.4L233.1 782.6L234.1 784.7L235.1 786.9L236.1 789.1L237.2 791.2L238.2 793.4L239.3 795.5L240.4 797.7L241.5 799.8L242.6 801.9L243.8 804.0L244.9 806.1L246.1 808.2L247.3 810.3L248.5 812.4L249.7 814.5L251.0 816.5L252.2 818.6L253.5 820.6L254.8 822.6L256.1 824.6L257.5 826.6L258.8 828.6L260.2 830.6L261.5 832.6L262.9 834.5L264.3 836.5L265.8 838.4L267.2 840.3L268.7 842.2L270.1 844.1L271.6 846.0L273.1 847.9L274.7 849.8L276.2 851.6L277.7 853.4L279.3 855.2L280.9 857.0L282.5 858.8L284.1 860.6L285.8 862.4L287.4 864.1L289.1 865.9L290.7 867.6L292.4 869.3L294.1 871.0L295.8 872.7L297.6 874.3L299.3 876.0L301.1 877.6L302.8 879.3L304.6 880.9L306.4 882.5L308.2 884.1L310.0 885.6L311.8 887.2L313.7 888.8L315.5 890.3L317.4 891.8L319.2 893.3L321.1 894.8L323.0 896.3L324.9 897.8L326.8 899.3L328.7 900.7L330.6 902.1L332.6 903.6L334.5 905.0L336.5 906.4L338.4 907.7L340.4 909.1L342.4 910.5L344.4 911.8L346.4 913.2L348.4 914.5L350.4 915.8L352.4 917.1L354.4 918.4L356.5 919.7L358.5 920.9L360.5 922.2L362.6 923.4L364.7 924.7L366.7 925.9L368.8 927.1L370.9 928.3L373.0 929.5L375.1 930.6L377.2 931.8L379.3 933.0L381.4 934.1L383.5 935.2L385.6 936.4L387.8 937.5L389.9 938.6L392.0 939.7L394.2 940.8L396.3 941.9L398.4 942.9L400.6 944.0L402.8 945.1L404.9 946.1L407.1 947.2L409.2 948.2L411.4 949.2L413.6 950.2L415.8 951.3L418.0 952.3L420.1 953.3L422.3 954.2L424.5 955.2L426.7 956.2L428.9 957.2L431.1 958.2L433.3 959.1L435.5 960.1L437.7 961.0L439.9 962.0L442.1 962.9L444.3 963.8L446.6 964.8L448.8 965.7L451.0 966.6L453.2 967.5L455.4 968.5L457.7 969.4L459.9 970.3L462.1 971.2L464.3 972.0L466.6 972.9L468.8 973.8L471.0 974.7L473.3 975.8L475.5 977.9L477.8 978.8L480.0 979.7L482.2 980.5L484.5 981.4L486.7 982.2L489.0 983.0L491.2 983.9L493.5 984.7L495.8 985.5L498.0 986.4L500.3 987.2L502.5 988.0L504.8 988.8L507.1 989.6L509.3 990.4L511.6 991.2L513.9 992.0L516.1 992.8L518.4 993.5L520.7 994.3L522.9 995.1L525.2 995.9L527.5 996.6L529.8 997.4L532.1 998.5L534.3 1000.4L536.6 1001.1L538.9 1001.9L541.2 1002.6L543.5 1003.3L545.8 1004.1L548.1 1004.8L550.3 1005.5L552.6 1006.2L554.9 1006.9L557.2 1007.6L559.5 1008.3L561.8 1009.0L564.1 1009.7L566.4 1010.4L568.7 1011.1L571.0 1011.8L573.3 1012.5L575.6 1013.1L577.9 1013.8L580.2 1014.5L582.6 1015.1L584.9 1015.8L587.2 1016.5L589.5 1017.1L591.8 1017.7L594.1 1018.4L596.4 1019.0L598.7 1019.7L601.1 1020.3L603.4 1020.9L605.7 1021.5L608.0 1022.2L610.3 1022.8L612.7 1023.4L615.0 1024.0L617.3 1024.6L619.6 1025.2L622.0 1025.8L624.3 1026.4L626.6 1027.0L629.0 1027.6L631.3 1028.1L633.6 1028.7L635.9 1029.3L638.3 1029.9L640.6 1030.4L642.9 1031.0L645.3 1031.6L647.6 1032.1L650.0 1032.7L652.3 1033.2L654.6 1033.8L657.0 1034.3L659.3 1034.9L661.6 1035.4L664.0 1035.9L666.3 1036.5L668.7 1037.0L671.0 1037.5L673.4 1038.0L675.7 1038.6L678.1 1039.1L680.4 1039.6L682.7 1040.1L685.1 1040.6L687.4 1041.1L689.8 1041.6L692.1 1042.1L694.5 1042.6L696.8 1043.1L699.2 1043.6L701.6 1044.0L703.9 1044.5L706.3 1045.0L708.6 1045.5L711.0 1046.0L713.3 1046.4L715.7 1046.9L718.0 1047.4L720.4 1047.8L722.7 1048.3L725.1 1048.7L727.5 1049.2L729.8 1049.6L732.2 1050.1L734.5 1050.5L736.9 1051.0L739.3 1051.4L741.6 1051.8L744.0 1052.3L746.4 1052.7L748.7 1053.1L751.1 1053.5L753.4 1054.0L755.8 1054.4L758.2 1054.8L760.5 1055.2L762.9 1055.6L765.3 1056.0L767.6 1056.4L770.0 1056.8L772.4 1057.2L774.7 1057.6L777.1 1058.0L779.5 1058.4L781.9 1058.8L784.2 1059.2L786.6 1059.6L789.0 1060.0L791.3 1060.3L793.7 1060.7L796.1 1061.1L798.5 1061.5L800.8 1061.8L803.2 1062.2L805.6 1062.6L808.0 1062.9L810.3 1063.3L812.7 1063.6L815.1 1064.0L817.5 1064.4L819.8 1064.7L822.2 1065.1L824.6 1065.4L827.0 1065.7L829.3 1066.1L831.7 1066.4L834.1 1066.8L836.5 1067.1L838.8 1067.4L841.2 1067.8L843.6 1068.1L846.0 1068.4L848.4 1068.7L850.7 1069.1L853.1 1069.4L855.5 1069.7L857.9 1070.0L860.3 1070.3L862.6 1070.7L865.0 1071.0L867.4 1071.3L869.8 1071.6L872.2 1071.9L874.6 1072.2L876.9 1072.5L879.3 1072.8L881.7 1073.1L884.1 1073.4L886.5 1073.7L888.9 1074.0L891.2 1074.2L893.6 1074.5L896.0 1074.8L898.4 1075.1L900.8 1075.4L903.2 1075.7L905.5 1075.9L907.9 1076.2L910.3 1076.5L912.7 1076.8L915.1 1077.0L917.5 1077.3L919.9 1077.6L922.3 1077.8L924.6 1078.1L927.0 1078.4L929.4 1078.6L931.8 1078.9L934.2 1079.1L936.6 1079.4L939.0 1079.7L941.4 1079.9L943.7 1080.2L946.1 1080.4L948.5 1080.7L950.9 1080.9L953.3 1081.1L955.7 1081.4L958.1 1081.6L960.5 1081.9L962.9 1082.1L965.2 1082.3L967.6 1082.6L970.0 1082.8L972.4 1083.1L974.8 1083.3L977.2 1083.5L979.6 1083.7L982.0 1084.0L984.4 1084.2L986.8 1084.4L989.2 1084.7L991.5 1084.9L993.9 1085.1L996.3 1085.3L998.7 1085.5L1001.1 1085.8L1003.5 1086.0L1005.9 1086.2L1008.3 1086.4L1010.7 1086.6L1013.1 1086.8L1015.5 1087.0L1017.9 1087.2L1020.2 1087.5L1022.6 1087.7L1025.0 1087.9L1027.4 1088.1L1029.8 1088.3L1032.2 1088.5L1034.6 1088.7L1037.0 1088.9L1039.4 1089.1L1041.8 1089.3L1044.2 1089.5L1046.6 1089.7L1049.0 1089.9L1051.4 1090.1L1053.8 1090.3L1056.1 1090.5L1058.5 1090.7L1060.9 1090.9L1063.3 1091.0L1065.7 1091.2L1068.1 1091.4L1070.5 1091.6L1072.9 1091.8L1075.3 1092.0L1077.7 1092.2L1080.1 1092.4L1082.5 1092.5L1084.9 1092.7L1087.3 1092.9L1089.7 1093.1L1092.1 1093.3L1094.5 1093.4L1096.9 1093.6L1099.2 1093.8L1101.6 1094.0L1104.0 1094.2L1106.4 1094.3L1108.8 1094.5L1111.2 1094.7L1113.6 1094.9L1116.0 1095.0L1118.4 1095.2L1120.8 1095.4L1123.2 1095.5L1125.6 1095.7L1128.0 1095.9L1130.4 1096.0L1132.8 1096.2L1135.2 1096.4L1137.6 1096.5L1140.0 1096.7L1142.4 1096.9L1144.8 1097.0L1147.2 1097.2L1149.6 1097.4L1152.0 1097.5L1154.3 1097.7L1156.7 1097.8L1159.1 1098.0L1161.5 1098.1L1163.9 1098.3L1166.3 1098.5L1168.7 1098.6L1171.1 1098.8L1173.5 1098.9L1175.9 1099.1L1178.3 1099.2L1180.7 1099.4L1183.1 1099.5L1185.5 1099.7L1187.9 1099.8L1190.3 1100.0L1192.7 1100.1L1195.1 1100.3L1197.5 1100.4L1199.9 1100.5L1202.3 1100.7L1204.7 1100.8L1207.1 1101.0L1209.5 1101.1L1211.9 1101.2L1214.3 1101.4L1216.7 1101.5L1219.1 1101.7L1221.5 1101.8L1223.9 1101.9L1226.3 1102.1L1228.7 1102.2L1231.1 1102.3L1233.5 1102.5L1235.9 1102.6L1238.3 1102.7L1240.7 1102.9L1243.0 1103.0L1245.4 1103.1L1247.8 1103.3L1250.2 1103.4L1252.6 1103.5L1255.0 1103.7L1257.4 1103.8L1259.8 1103.9L1262.2 1104.0L1264.6 1104.2L1267.0 1104.3L1269.4 1104.4L1271.8 1104.5L1274.2 1104.7L1276.6 1104.8L1279.0 1104.9L1281.4 1105.0L1283.8 1105.1L1286.2 1105.3L1288.6 1105.4L1291.0 1105.5L1293.4 1105.6L1295.8 1105.7L1298.2 1105.8L1300.6 1106.0L1303.0 1106.1L1305.4 1106.2L1307.8 1106.3L1310.2 1106.4L1312.6 1106.5L1315.0 1106.6L1317.4 1106.7L1319.8 1106.9L1322.2 1107.0L1324.6 1107.1L1327.0 1107.2L1329.4 1107.3L1331.8 1107.4L1334.2 1107.5L1336.6 1107.6L1339.0 1107.7L1341.4 1107.8L1343.8 1107.9L1346.2 1108.0L1348.6 1108.1L1351.0 1108.2L1353.4 1108.3L1355.8 1108.4L1358.2 1108.5L1360.6 1108.6L1363.0 1108.7L1365.4 1108.8L1367.8 1108.9L1370.2 1109.0L1372.6 1109.1L1375.0 1109.2L1377.4 1109.3L1379.8 1109.4L1382.2 1109.5L1384.6 1109.6L1387.0 1109.7L1389.4 1109.8L1391.8 1109.9L1394.2 1110.0L1396.6 1110.1L1399.0 1110.2L1401.4 1110.3L1403.8 1110.4L1406.2 1110.5L1408.6 1110.5L1411.0 1110.6L1413.4 1110.7L1415.8 1110.8L1418.2 1110.9L1420.6 1111.0L1423.0 1111.1L1425.4 1111.2L1427.8 1111.2L1430.2 1111.3L1432.6 1111.4L1435.0 1111.5L1437.4 1111.6L1439.8 1111.7L1442.2 1111.8L1444.6 1111.8L1447.0 1111.9L1449.4 1112.0L1451.8 1112.1L1454.2 1112.2L1456.6 1112.2L1459.0 1112.3L1461.4 1112.4L1463.8 1112.5L1466.2 1112.6L1468.6 1112.6L1471.0 1112.7L1473.4 1112.8L1475.8 1112.9L1478.2 1113.0L1480.6 1113.0L1483.0 1113.1L1485.4 1113.2L1487.8 1113.3L1490.2 1113.3L1492.6 1113.4L1495.0 1113.5L1497.4 1113.6L1499.8 1113.6L1502.2 1113.7L1504.6 1113.8L1507.0 1113.8L1509.4 1113.9L1511.8 1114.0L1514.2 1114.1L1516.6 1114.1L1519.0 1114.2L1521.4 1114.3L1523.8 1114.3L1526.2 1114.4L1528.6 1114.5L1531.0 1114.5L1533.4 1114.6L1535.8 1114.7L1538.2 1114.7L1540.6 1114.8L1543.0 1114.9L1545.4 1114.9L1547.8 1115.0L1550.2 1115.1L1552.6 1115.1L1555.0 1115.2L1557.4 1115.3L1559.8 1115.3L1562.2 1115.4L1564.6 1115.5L1567.0 1115.5" stroke="#00aa64"/>
<path d="M186.9 286.0L187.1 288.6L187.4 291.2L187.7 293.8L187.9 296.4L188.2 299.0L188.4 301.7L188.7 304.3L188.9 306.9L189.1 309.5L189.4 312.1L189.6 314.8L189.9 317.4L190.1 320.0L190.3 322.6L190.6 325.2L190.8 327.9L191.0 330.5L191.3 333.1L191.5 335.7L191.7 338.3L192.0 341.0L192.2 343.6L192.4 346.2L192.6 348.8L192.9 351.4L193.1 354.1L193.3 356.7L193.5 359.3L193.8 361.9L194.0 364.6L194.2 367.2L194.4 369.8L194.6 372.4L194.9 375.0L195.1 377.7L195.3 380.3L195.5 382.9L195.8 385.5L196.0 388.1L196.2 390.8L196.5 393.4L196.7 396.0L196.9 398.6L197.2 401.2L197.4 403.9L197.6 406.5L197.9 409.1L198.1 411.7L198.4 414.3L198.6 417.0L198.8 419.6L199.1 422.2L199.3 424.8L199.6 427.4L199.9 430.1L200.1 432.7L200.4 435.3L200.6 437.9L200.9 440.5L201.2 443.1L201.4 445.8L201.7 448.4L202.0 451.0L202.3 453.6L202.6 456.2L202.9 458.8L203.1 461.5L203.4 464.1L203.7 466.7L204.1 469.3L204.4 471.9L204.7 474.5L205.0 477.1L205.3 479.7L205.6 482.4L206.0 485.0L206.3 487.6L206.6 490.2L207.0 492.8L207.3 495.4L207.7 498.0L208.1 500.6L208.4 503.2L208.8 505.8L209.2 508.4L209.6 511.0L209.9 513.6L210.3 516.2L210.7 518.8L211.1 521.4L211.6 524.0L212.0 526.6L212.4 529.2L212.8 531.8L213.3 534.4L213.7 537.0L214.2 539.6L214.6 542.2L215.1 544.8L215.6 547.4L216.0 550.0L216.5 552.5L217.0 555.1L217.5 557.7L218.0 560.3L218.5 562.9L219.1 565.4L219.6 568.0L220.1 570.6L220.7 573.2L221.2 575.7L221.8 578.3L222.4 580.9L222.9 583.4L223.5 586.0L224.1 588.6L224.7 591.1L225.3 593.7L226.0 596.2L226.6 598.8L227.2 601.3L227.9 603.9L228.6 606.4L229.2 609.0L229.9 611.5L230.6 614.1L231.3 616.6L232.1 619.1L232.8 621.6L233.5 624.2L234.3 626.7L235.1 629.2L235.9 631.7L236.7 634.2L237.5 636.7L238.3 639.2L239.1 641.7L240.0 644.2L240.9 646.7L241.8 649.2L242.7 651.6L243.6 654.1L244.5 656.6L245.5 659.0L246.4 661.5L247.4 663.9L248.4 666.3L249.4 668.8L250.4 671.2L251.5 673.6L252.6 676.0L253.7 678.4L254.8 680.8L255.9 683.2L257.0 685.5L258.2 687.9L259.4 690.2L260.6 692.6L261.8 694.9L263.0 697.2L264.2 699.6L265.5 701.9L266.8 704.2L268.1 706.5L269.4 708.7L270.7 711.0L272.1 713.3L273.4 715.5L274.8 717.8L276.2 720.0L277.6 722.2L279.0 724.4L280.5 726.6L281.9 728.8L283.4 731.0L284.9 733.2L286.4 735.4L287.9 737.5L289.4 739.7L290.9 741.8L292.5 743.9L294.0 746.1L295.6 748.2L297.2 750.3L298.8 752.4L300.4 754.4L302.0 756.5L303.6 758.6L305.3 760.6L306.9 762.7L308.6 764.7L310.3 766.7L312.0 768.7L313.7 770.8L315.4 772.8L317.1 774.7L318.8 776.7L320.6 778.7L322.3 780.7L324.1 782.6L325.8 784.6L327.6 786.5L329.4 788.4L331.2 790.3L333.0 792.2L334.8 794.1L336.7 796.0L338.5 797.9L340.3 799.8L342.2 801.7L344.1 803.5L345.9 805.4L347.8 807.2L349.7 809.1L351.6 810.9L353.5 812.7L355.4 814.5L357.3 816.3L359.2 818.1L361.1 819.9L363.1 821.7L365.0 823.5L367.0 825.2L368.9 827.0L370.9 828.8L372.9 830.5L374.9 832.2L376.8 833.9L378.8 835.7L380.8 837.4L382.9 839.1L384.9 840.7L386.9 842.4L388.9 844.1L391.0 845.7L393.0 847.4L395.1 849.0L397.2 850.7L399.2 852.3L401.3 853.9L403.4 855.5L405.5 857.1L407.6 858.7L409.7 860.2L411.8 861.8L413.9 863.3L416.1 864.9L418.2 866.4L420.4 867.9L422.5 869.5L424.7 871.0L426.8 872.5L429.0 873.9L431.2 875.4L433.4 876.9L435.6 878.3L437.8 879.8L440.0 881.2L442.2 882.7L444.4 884.1L446.6 885.5L448.8 886.9L451.1 888.3L453.3 889.6L455.6 891.0L457.8 892.4L460.1 893.7L462.3 895.0L464.6 896.4L466.9 897.7L469.2 899.0L471.5 900.3L473.8 902.2L476.1 904.4L478.4 905.6L480.7 906.9L483.0 908.2L485.3 909.4L487.6 910.6L489.9 911.9L492.3 913.1L494.6 914.3L496.9 915.5L499.3 916.7L501.6 917.9L504.0 919.1L506.3 920.2L508.7 921.4L511.1 922.6L513.4 923.7L515.8 924.9L518.2 926.0L520.5 927.1L522.9 928.3L525.3 929.4L527.7 930.5L530.1 931.6L532.5 933.4L534.8 935.3L537.2 936.4L539.6 937.5L542.0 938.6L544.4 939.6L546.8 940.7L549.3 941.8L551.7 942.8L554.1 943.9L556.5 944.9L558.9 946.0L561.3 947.0L563.7 948.1L566.1 949.1L568.6 950.1L571.0 951.1L573.4 952.2L575.8 953.2L578.3 954.2L580.7 955.2L583.1 956.2L585.6 957.2L588.0 958.2L590.4 959.2L592.9 960.2L595.3 961.2L597.8 962.1L600.2 963.1L602.6 964.1L605.1 965.1L607.5 966.0L610.0 967.0L612.4 967.9L614.9 968.9L617.4 969.8L619.8 970.8L622.3 971.7L624.7 972.6L627.2 973.5L629.7 974.5L632.1 975.4L634.6 976.3L637.1 977.2L639.5 978.1L642.0 979.0L644.5 979.9L647.0 980.8L649.4 981.7L651.9 982.5L654.4 983.4L656.9 984.3L659.4 985.1L661.9 986.0L664.3 986.8L666.8 987.7L669.3 988.5L671.8 989.4L674.3 990.2L676.8 991.0L679.3 991.8L681.8 992.7L684.3 993.5L686.8 994.3L689.3 995.1L691.8 995.9L694.3 996.7L696.9 997.5L699.4 998.2L701.9 999.0L704.4 999.8L706.9 1000.5L709.4 1001.3L712.0 1002.0L714.5 1002.8L717.0 1003.5L719.5 1004.3L722.1 1005.0L724.6 1005.7L727.1 1006.5L729.6 1007.2L732.2 1007.9L734.7 1008.6L737.3 1009.3L739.8 1010.0L742.3 1010.7L744.9 1011.3L747.4 1012.0L750.0 1012.7L752.5 1013.3L755.1 1014.0L757.6 1014.6L760.2 1015.3L762.7 1015.9L765.3 1016.6L767.8 1017.2L770.4 1017.8L772.9 1018.4L775.5 1019.0L778.0 1019.7L780.6 1020.3L783.2 1020.9L785.7 1021.5L788.3 1022.0L790.9 1022.6L793.4 1023.2L796.0 1023.8L798.6 1024.3L801.1 1024.9L803.7 1025.5L806.3 1026.0L808.8 1026.6L811.4 1027.1L814.0 1027.7L816.6 1028.2L819.1 1028.7L821.7 1029.3L824.3 1029.8L826.9 1030.3L829.5 1030.8L832.0 1031.3L834.6 1031.9L837.2 1032.4L839.8 1032.9L842.4 1033.4L844.9 1033.9L847.5 1034.3L850.1 1034.8L852.7 1035.3L855.3 1035.8L857.9 1036.3L860.5 1036.8L863.0 1037.2L865.6 1037.7L868.2 1038.2L870.8 1038.6L873.4 1039.1L876.0 1039.5L878.6 1040.0L881.2 1040.5L883.8 1040.9L886.4 1041.4L889.0 1041.8L891.5 1042.2L894.1 1042.7L896.7 1043.1L899.3 1043.6L901.9 1044.0L904.5 1044.4L907.1 1044.9L909.7 1045.3L912.3 1045.7L914.9 1046.1L917.5 1046.6L920.1 1047.0L922.7 1047.4L925.3 1047.8L927.9 1048.2L930.5 1048.6L933.1 1049.0L935.7 1049.4L938.3 1049.8L940.9 1050.2L943.5 1050.6L946.1 1051.0L948.7 1051.4L951.3 1051.8L953.9 1052.2L956.5 1052.6L959.1 1053.0L961.7 1053.4L964.3 1053.8L966.9 1054.2L969.5 1054.5L972.1 1054.9L974.7 1055.3L977.3 1055.7L979.9 1056.0L982.5 1056.4L985.1 1056.8L987.7 1057.1L990.3 1057.5L992.9 1057.9L995.6 1058.2L998.2 1058.6L1000.8 1059.0L1003.4 1059.3L1006.0 1059.7L1008.6 1060.0L1011.2 1060.4L1013.8 1060.7L1016.4 1061.1L1019.0 1061.4L1021.6 1061.7L1024.2 1062.1L1026.8 1062.4L1029.5 1062.8L1032.1 1063.1L1034.7 1063.4L1037.3 1063.8L1039.9 1064.1L1042.5 1064.4L1045.1 1064.7L1047.7 1065.1L1050.3 1065.4L1052.9 1065.7L1055.6 1066.0L1058.2 1066.3L1060.8 1066.7L1063.4 1067.0L1066.0 1067.3L1068.6 1067.6L1071.2 1067.9L1073.8 1068.2L1076.5 1068.5L1079.1 1068.8L1081.7 1069.1L1084.3 1069.4L1086.9 1069.7L1089.5 1070.0L1092.1 1070.3L1094.8 1070.6L1097.4 1070.9L1100.0 1071.2L1102.6 1071.5L1105.2 1071.8L1107.8 1072.1L1110.4 1072.3L1113.1 1072.6L1115.7 1072.9L1118.3 1073.2L1120.9 1073.5L1123.5 1073.7L1126.1 1074.0L1128.8 1074.3L1131.4 1074.6L1134.0 1074.8L1136.6 1075.1L1139.2 1075.4L1141.8 1075.6L1144.5 1075.9L1147.1 1076.2L1149.7 1076.4L1152.3 1076.7L1154.9 1076.9L1157.5 1077.2L1160.2 1077.4L1162.8 1077.7L1165.4 1077.9L1168.0 1078.2L1170.6 1078.4L1173.3 1078.7L1175.9 1078.9L1178.5 1079.2L1181.1 1079.4L1183.7 1079.7L1186.4 1079.9L1189.0 1080.2L1191.6 1080.4L1194.2 1080.6L1196.8 1080.9L1199.5 1081.1L1202.1 1081.3L1204.7 1081.6L1207.3 1081.8L1209.9 1082.0L1212.6 1082.2L1215.2 1082.5L1217.8 1082.7L1220.4 1082.9L1223.0 1083.1L1225.7 1083.4L1228.3 1083.6L1230.9 1083.8L1233.5 1084.0L1236.2 1084.2L1238.8 1084.5L1241.4 1084.7L1244.0 1084.9L1246.6 1085.1L1249.3 1085.3L1251.9 1085.5L1254.5 1085.7L1257.1 1085.9L1259.8 1086.1L1262.4 1086.3L1265.0 1086.5L1267.6 1086.7L1270.2 1086.9L1272.9 1087.1L1275.5 1087.3L1278.1 1087.5L1280.7 1087.7L1283.4 1087.9L1286.0 1088.1L1288.6 1088.3L1291.2 1088.5L1293.9 1088.7L1296.5 1088.9L1299.1 1089.1L1301.7 1089.3L1304.4 1089.4L1307.0 1089.6L1309.6 1089.8L1312.2 1090.0L1314.9 1090.2L1317.5 1090.4L1320.1 1090.5L1322.7 1090.7L1325.3 1090.9L1328.0 1091.1L1330.6 1091.2L1333.2 1091.4L1335.8 1091.6L1338.5 1091.8L1341.1 1091.9L1343.7 1092.1L1346.3 1092.3L1349.0 1092.4L1351.6 1092.6L1354.2 1092.8L1356.9 1092.9L1359.5 1093.1L1362.1 1093.3L1364.7 1093.4L1367.4 1093.6L1370.0 1093.8L1372.6 1093.9L1375.2 1094.1L1377.9 1094.2L1380.5 1094.4L1383.1 1094.6L1385.7 1094.7L1388.4 1094.9L1391.0 1095.0L1393.6 1095.2L1396.2 1095.3L1398.9 1095.5L1401.5 1095.6L1404.1 1095.8L1406.7 1095.9L1409.4 1096.1L1412.0 1096.2L1414.6 1096.4L1417.3 1096.5L1419.9 1096.7L1422.5 1096.8L1425.1 1097.0L1427.8 1097.1L1430.4 1097.3L1433.0 1097.4L1435.6 1097.6L1438.3 1097.7L1440.9 1097.8L1443.5 1098.0L1446.1 1098.1L1448.8 1098.3L1451.4 1098.4L1454.0 1098.5L1456.7 1098.7L1459.3 1098.8L1461.9 1098.9L1464.5 1099.1L1467.2 1099.2L1469.8 1099.3L1472.4 1099.5L1475.0 1099.6L1477.7 1099.7L1480.3 1099.9L1482.9 1100.0L1485.6 1100.1L1488.2 1100.3L1490.8 1100.4L1493.4 1100.5L1496.1 1100.7L1498.7 1100.8L1501.3 1100.9L1503.9 1101.0L1506.6 1101.2L1509.2 1101.3L1511.8 1101.4L1514.5 1101.5L1517.1 1101.7L1519.7 1101.8L1522.3 1101.9L1525.0 1102.0L1527.6 1102.2L1530.2 1102.3L1532.9 1102.4L1535.5 1102.5L1538.1 1102.6L1540.7 1102.8L1543.4 1102.9L1546.0 1103.0L1548.6 1103.1L1551.3 1103.2L1553.9 1103.4L1556.5 1103.5L1559.1 1103.6L1561.8 1103.7L1564.4 1103.8L1567.0 1104.0" stroke="#c474e4"/>
<path d="M187.0 358.7L187.3 361.2L187.5 363.7L187.8 366.2L188.0 368.6L188.3 371.1L188.5 373.6L188.8 376.1L189.0 378.6L189.2 381.1L189.5 383.6L189.7 386.0L190.0 388.5L190.2 391.0L190.5 393.5L190.7 396.0L191.0 398.5L191.2 401.0L191.5 403.4L191.7 405.9L192.0 408.4L192.3 410.9L192.5 413.4L192.8 415.9L193.0 418.4L193.3 420.8L193.6 423.3L193.8 425.8L194.1 428.3L194.4 430.8L194.7 433.3L194.9 435.7L195.2 438.2L195.5 440.7L195.8 443.2L196.1 445.7L196.4 448.2L196.7 450.6L197.0 453.1L197.3 455.6L197.6 458.1L197.9 460.6L198.3 463.0L198.6 465.5L198.9 468.0L199.2 470.5L199.6 472.9L199.9 475.4L200.3 477.9L200.6 480.4L201.0 482.8L201.3 485.3L201.7 487.8L202.1 490.3L202.4 492.7L202.8 495.2L203.2 497.7L203.6 500.1L204.0 502.6L204.4 505.1L204.8 507.5L205.2 510.0L205.6 512.5L206.1 514.9L206.5 517.4L206.9 519.8L207.4 522.3L207.8 524.8L208.3 527.2L208.8 529.7L209.2 532.1L209.7 534.6L210.2 537.0L210.7 539.5L211.2 541.9L211.7 544.4L212.2 546.8L212.8 549.2L213.3 551.7L213.8 554.1L214.4 556.6L214.9 559.0L215.5 561.4L216.1 563.9L216.7 566.3L217.3 568.7L217.9 571.1L218.5 573.6L219.1 576.0L219.7 578.4L220.4 580.8L221.0 583.2L221.7 585.6L222.3 588.1L223.0 590.5L223.7 592.9L224.4 595.3L225.1 597.7L225.8 600.0L226.6 602.4L227.3 604.8L228.1 607.2L228.8 609.6L229.6 612.0L230.4 614.3L231.2 616.7L232.0 619.1L232.8 621.4L233.6 623.8L234.5 626.1L235.3 628.5L236.2 630.8L237.1 633.2L238.0 635.5L238.9 637.8L239.8 640.2L240.7 642.5L241.7 644.8L242.6 647.1L243.6 649.4L244.6 651.7L245.6 654.0L246.6 656.3L247.6 658.6L248.6 660.8L249.7 663.1L250.7 665.4L251.8 667.6L252.9 669.9L254.0 672.1L255.1 674.3L256.3 676.6L257.4 678.8L258.6 681.0L259.7 683.2L260.9 685.4L262.1 687.6L263.3 689.8L264.6 691.9L265.8 694.1L267.1 696.3L268.4 698.4L269.7 700.5L271.0 702.7L272.3 704.8L273.6 706.9L275.0 709.0L276.4 711.1L277.7 713.2L279.1 715.3L280.5 717.3L282.0 719.4L283.4 721.4L284.8 723.5L286.3 725.5L287.8 727.5L289.3 729.5L290.8 731.5L292.3 733.5L293.8 735.5L295.4 737.4L296.9 739.4L298.5 741.3L300.1 743.3L301.6 745.2L303.2 747.1L304.9 749.0L306.5 750.9L308.1 752.8L309.8 754.7L311.4 756.6L313.1 758.4L314.8 760.3L316.5 762.1L318.2 763.9L319.9 765.7L321.6 767.5L323.4 769.3L325.1 771.1L326.9 772.9L328.7 774.7L330.4 776.4L332.2 778.2L334.0 779.9L335.8 781.6L337.7 783.3L339.5 785.0L341.3 786.7L343.2 788.4L345.0 790.0L346.9 791.7L348.8 793.4L350.7 795.0L352.6 796.6L354.5 798.2L356.4 799.8L358.3 801.4L360.3 803.0L362.2 804.6L364.2 806.1L366.1 807.7L368.1 809.2L370.1 810.7L372.1 812.3L374.1 813.8L376.1 815.3L378.1 816.7L380.1 818.2L382.1 819.7L384.2 821.1L386.2 822.6L388.2 824.0L390.3 825.4L392.4 826.8L394.4 828.2L396.5 829.6L398.6 831.0L400.7 832.3L402.8 833.7L404.9 835.0L407.0 836.4L409.1 837.7L411.2 839.0L413.4 840.3L415.5 841.6L417.6 842.9L419.8 844.2L421.9 845.5L424.1 846.8L426.3 848.0L428.4 849.3L430.6 850.5L432.8 851.7L434.9 853.0L437.1 854.2L439.3 855.4L441.5 856.6L443.7 857.8L445.9 859.0L448.1 860.1L450.3 861.3L452.5 862.5L454.7 863.6L457.0 864.8L459.2 865.9L461.4 867.0L463.6 868.2L465.9 869.3L468.1 870.4L470.3 871.5L472.6 872.6L474.8 875.1L477.1 876.3L479.3 877.4L481.6 878.5L483.8 879.5L486.1 880.6L488.4 881.7L490.6 882.7L492.9 883.8L495.2 884.8L497.4 885.9L499.7 886.9L502.0 888.0L504.2 889.0L506.5 890.0L508.8 891.0L511.1 892.0L513.4 893.1L515.7 894.1L517.9 895.1L520.2 896.1L522.5 897.1L524.8 898.1L527.1 899.0L529.4 900.0L531.7 901.2L534.0 903.5L536.3 904.4L538.6 905.4L540.9 906.4L543.2 907.3L545.5 908.3L547.9 909.2L550.2 910.2L552.5 911.1L554.8 912.1L557.1 913.0L559.4 913.9L561.8 914.8L564.1 915.8L566.4 916.7L568.7 917.6L571.1 918.5L573.4 919.4L575.7 920.3L578.1 921.2L580.4 922.1L582.7 923.0L585.1 923.9L587.4 924.8L589.7 925.6L592.1 926.5L594.4 927.4L596.8 928.3L599.1 929.1L601.4 930.0L603.8 930.8L606.1 931.7L608.5 932.5L610.8 933.4L613.2 934.2L615.5 935.1L617.9 935.9L620.3 936.7L622.6 937.6L625.0 938.4L627.3 939.2L629.7 940.0L632.1 940.9L634.4 941.7L636.8 942.5L639.1 943.3L641.5 944.1L643.9 944.9L646.2 945.7L648.6 946.5L651.0 947.3L653.4 948.1L655.7 948.8L658.1 949.6L660.5 950.4L662.9 951.2L665.2 951.9L667.6 952.7L670.0 953.5L672.4 954.2L674.7 955.0L677.1 955.8L679.5 956.5L681.9 957.3L684.3 958.0L686.7 958.8L689.1 959.5L691.4 960.2L693.8 961.0L696.2 961.7L698.6 962.4L701.0 963.2L703.4 963.9L705.8 964.6L708.2 965.3L710.6 966.0L713.0 966.7L715.4 967.4L717.8 968.2L720.2 968.9L722.6 969.6L725.0 970.3L727.4 970.9L729.8 971.6L732.2 972.3L734.6 973.0L737.0 973.7L739.4 974.4L741.8 975.0L744.2 975.7L746.6 976.4L749.0 977.1L751.4 977.7L753.8 978.4L756.2 979.0L758.6 979.7L761.0 980.4L763.5 981.0L765.9 981.7L768.3 982.3L770.7 982.9L773.1 983.6L775.5 984.2L777.9 984.9L780.4 985.5L782.8 986.1L785.2 986.7L787.6 987.4L790.0 988.0L792.5 988.6L794.9 989.2L797.3 989.8L799.7 990.4L802.2 991.0L804.6 991.6L807.0 992.2L809.4 992.8L811.9 993.4L814.3 994.0L816.7 994.6L819.1 995.2L821.6 995.8L824.0 996.4L826.4 997.0L828.9 997.5L831.3 998.1L833.7 998.7L836.2 999.3L838.6 999.8L841.0 1000.4L843.5 1001.0L845.9 1001.5L848.3 1002.1L850.8 1002.6L853.2 1003.2L855.6 1003.7L858.1 1004.3L860.5 1004.8L863.0 1005.4L865.4 1005.9L867.8 1006.4L870.3 1007.0L872.7 1007.5L875.2 1008.0L877.6 1008.6L880.0 1009.1L882.5 1009.6L884.9 1010.1L887.4 1010.7L889.8 1011.2L892.3 1011.7L894.7 1012.2L897.2 1012.7L899.6 1013.2L902.1 1013.7L904.5 1014.2L907.0 1014.7L909.4 1015.2L911.8 1015.7L914.3 1016.2L916.7 1016.7L919.2 1017.2L921.7 1017.7L924.1 1018.1L926.6 1018.6L929.0 1019.1L931.5 1019.6L933.9 1020.0L936.4 1020.5L938.8 1021.0L941.3 1021.5L943.7 1021.9L946.2 1022.4L948.6 1022.8L951.1 1023.3L953.6 1023.8L956.0 1024.2L958.5 1024.7L960.9 1025.1L963.4 1025.6L965.8 1026.0L968.3 1026.4L970.8 1026.9L973.2 1027.3L975.7 1027.8L978.1 1028.2L980.6 1028.6L983.1 1029.1L985.5 1029.5L988.0 1029.9L990.5 1030.3L992.9 1030.8L995.4 1031.2L997.8 1031.6L1000.3 1032.0L1002.8 1032.4L1005.2 1032.8L1007.7 1033.2L1010.2 1033.6L1012.6 1034.1L1015.1 1034.5L1017.6 1034.9L1020.0 1035.3L1022.5 1035.7L1025.0 1036.1L1027.4 1036.4L1029.9 1036.8L1032.4 1037.2L1034.8 1037.6L1037.3 1038.0L1039.8 1038.4L1042.2 1038.8L1044.7 1039.1L1047.2 1039.5L1049.7 1039.9L1052.1 1040.3L1054.6 1040.7L1057.1 1041.0L1059.5 1041.4L1062.0 1041.8L1064.5 1042.1L1066.9 1042.5L1069.4 1042.9L1071.9 1043.2L1074.4 1043.6L1076.8 1043.9L1079.3 1044.3L1081.8 1044.6L1084.3 1045.0L1086.7 1045.3L1089.2 1045.7L1091.7 1046.0L1094.2 1046.4L1096.6 1046.7L1099.1 1047.1L1101.6 1047.4L1104.1 1047.7L1106.5 1048.1L1109.0 1048.4L1111.5 1048.7L1114.0 1049.1L1116.4 1049.4L1118.9 1049.7L1121.4 1050.0L1123.9 1050.4L1126.4 1050.7L1128.8 1051.0L1131.3 1051.3L1133.8 1051.7L1136.3 1052.0L1138.7 1052.3L1141.2 1052.6L1143.7 1052.9L1146.2 1053.2L1148.7 1053.5L1151.1 1053.8L1153.6 1054.1L1156.1 1054.4L1158.6 1054.7L1161.1 1055.0L1163.5 1055.3L1166.0 1055.6L1168.5 1055.9L1171.0 1056.2L1173.5 1056.5L1175.9 1056.8L1178.4 1057.1L1180.9 1057.4L1183.4 1057.7L1185.9 1058.0L1188.4 1058.3L1190.8 1058.5L1193.3 1058.8L1195.8 1059.1L1198.3 1059.4L1200.8 1059.7L1203.3 1059.9L1205.7 1060.2L1208.2 1060.5L1210.7 1060.8L1213.2 1061.0L1215.7 1061.3L1218.2 1061.6L1220.6 1061.8L1223.1 1062.1L1225.6 1062.4L1228.1 1062.6L1230.6 1062.9L1233.1 1063.2L1235.6 1063.4L1238.0 1063.7L1240.5 1063.9L1243.0 1064.2L1245.5 1064.4L1248.0 1064.7L1250.5 1064.9L1253.0 1065.2L1255.4 1065.4L1257.9 1065.7L1260.4 1065.9L1262.9 1066.2L1265.4 1066.4L1267.9 1066.7L1270.4 1066.9L1272.8 1067.2L1275.3 1067.4L1277.8 1067.6L1280.3 1067.9L1282.8 1068.1L1285.3 1068.3L1287.8 1068.6L1290.3 1068.8L1292.7 1069.0L1295.2 1069.3L1297.7 1069.5L1300.2 1069.7L1302.7 1070.0L1305.2 1070.2L1307.7 1070.4L1310.2 1070.6L1312.6 1070.9L1315.1 1071.1L1317.6 1071.3L1320.1 1071.5L1322.6 1071.8L1325.1 1072.0L1327.6 1072.2L1330.1 1072.4L1332.6 1072.6L1335.0 1072.8L1337.5 1073.1L1340.0 1073.3L1342.5 1073.5L1345.0 1073.7L1347.5 1073.9L1350.0 1074.1L1352.5 1074.3L1355.0 1074.5L1357.5 1074.7L1359.9 1075.0L1362.4 1075.2L1364.9 1075.4L1367.4 1075.6L1369.9 1075.8L1372.4 1076.0L1374.9 1076.2L1377.4 1076.4L1379.9 1076.6L1382.4 1076.8L1384.9 1077.0L1387.3 1077.2L1389.8 1077.4L1392.3 1077.6L1394.8 1077.8L1397.3 1078.0L1399.8 1078.1L1402.3 1078.3L1404.8 1078.5L1407.3 1078.7L1409.8 1078.9L1412.3 1079.1L1414.7 1079.3L1417.2 1079.5L1419.7 1079.7L1422.2 1079.9L1424.7 1080.0L1427.2 1080.2L1429.7 1080.4L1432.2 1080.6L1434.7 1080.8L1437.2 1081.0L1439.7 1081.2L1442.2 1081.3L1444.6 1081.5L1447.1 1081.7L1449.6 1081.9L1452.1 1082.1L1454.6 1082.2L1457.1 1082.4L1459.6 1082.6L1462.1 1082.8L1464.6 1083.0L1467.1 1083.1L1469.6 1083.3L1472.1 1083.5L1474.6 1083.7L1477.0 1083.8L1479.5 1084.0L1482.0 1084.2L1484.5 1084.4L1487.0 1084.5L1489.5 1084.7L1492.0 1084.9L1494.5 1085.1L1497.0 1085.2L1499.5 1085.4L1502.0 1085.6L1504.5 1085.7L1507.0 1085.9L1509.5 1086.1L1511.9 1086.2L1514.4 1086.4L1516.9 1086.6L1519.4 1086.7L1521.9 1086.9L1524.4 1087.1L1526.9 1087.3L1529.4 1087.4L1531.9 1087.6L1534.4 1087.8L1536.9 1087.9L1539.4 1088.1L1541.9 1088.2L1544.4 1088.4L1546.8 1088.6L1549.3 1088.7L1551.8 1088.9L1554.3 1089.1L1556.8 1089.2L1559.3 1089.4L1561.8 1089.6L1564.3 1089.7L1566.8 1089.9" stroke="#da9600"/>
</g>
<g font-size="100" stroke-width="1.5">
<text transform="translate(87.4 1149.5) scale(0.4634 0.4845)">0.0</text>
<text transform="translate(87.4 703.1) scale(0.4634 0.4845)">0.2</text>
<text transform="translate(87.4 256.7) scale(0.4634 0.4845)">0.4</text>
</g>
<g font-size="100" text-anchor="middle" stroke-width="1.5">
<text transform="translate(379.4 1208.8) scale(0.4578 0.473)">300</text>
<text transform="translate(617.2 1208.8) scale(0.4578 0.473)">400</text>
<text transform="translate(855 1208.8) scale(0.4578 0.473)">500</text>
<text transform="translate(1092.8 1208.8) scale(0.4578 0.473)">600</text>
<text transform="translate(1330.6 1208.8) scale(0.4578 0.473)">700</text>
<text transform="translate(1568.45 1208.8) scale(0.4578 0.473)">800</text>
</g>
<text font-size="100" stroke-width="1.2" transform="translate(63 746.3) rotate(-90) scale(0.5825 0.575)">Absorbance</text>
<text font-size="100" stroke-width="1.25" transform="translate(597.75 1304.25) scale(0.582 0.53)">Wavenumber</text>
<text font-size="100" stroke-width="1.4" transform="translate(977.2 1303.55) scale(0.496 0.5)">(</text>
<text font-size="100" stroke-width="1.25" transform="translate(995.85 1304.25) scale(0.5746 0.53)">cm</text>
<text font-size="100" font-weight="normal" stroke-width="0" transform="translate(1084.2 1277.6) scale(0.297 0.286)">&#8212;</text>
<text font-size="100" stroke-width="2.2" transform="translate(1120.55 1282.55) scale(0.266 0.37)">1</text>
<text font-size="100" stroke-width="1.45" transform="translate(1143.45 1303.3) scale(0.468 0.494)">)</text>
<g stroke-width="4.4" stroke-linecap="round" fill="none">
<path d="M1020.4 66.0H1125" stroke="#4b4b4b"/>
<path d="M1020.4 132.0H1125" stroke="#ff3535"/>
<path d="M1020.4 197.9H1125" stroke="#006ae0"/>
<path d="M1020.4 263.0H1125" stroke="#00aa64"/>
<path d="M1020.4 329.4H1125" stroke="#c474e4"/>
<path d="M1020.4 394.5H1125" stroke="#da9600"/>
</g>
<g font-size="100" stroke-width="1.3">
<text transform="translate(1139.6 84.55) scale(0.519 0.552)">BNNSs</text>
<text transform="translate(1139.6 150.65) scale(0.519 0.552)">BNNSs-OH@100</text>
<text transform="translate(1139.6 216.55) scale(0.519 0.552)">BNNSs-OH@200</text>
<text transform="translate(1139.6 281.65) scale(0.519 0.552)">BNNSs-OH@300</text>
<text transform="translate(1139.6 347.95) scale(0.519 0.552)">BNNSs-OH@400</text>
<text transform="translate(1139.6 412.85) scale(0.519 0.552)">BNNSs-OH@500</text>
</g>
</svg>
</body></html>
